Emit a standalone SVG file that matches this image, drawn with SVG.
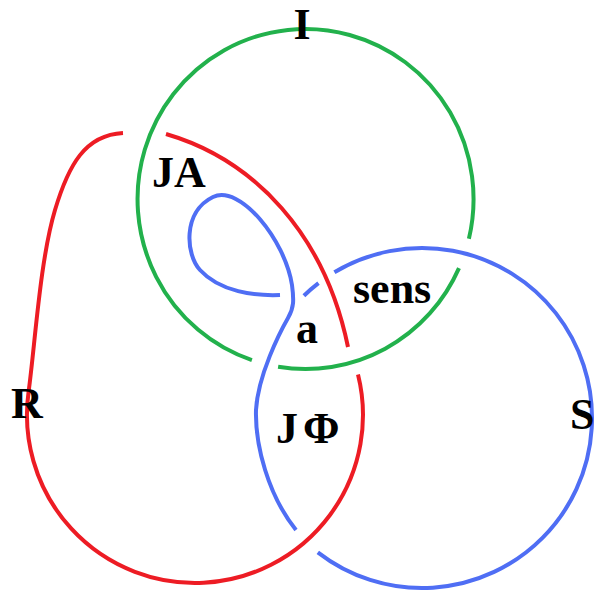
<svg xmlns="http://www.w3.org/2000/svg" width="596" height="592" viewBox="0 0 596 592">
<style>
.c{fill:none;stroke-width:4;stroke-linecap:butt}
.g{stroke:#22b14c}
.r{stroke:#ed1c24}
.b{stroke:#4f6ef4}
.t{font-family:"Liberation Serif","Times New Roman",serif;font-weight:bold;font-size:44px;fill:#000}
</style>
<rect width="596" height="592" fill="#fff"/>
<g id="curve-I">
<path class="c g" d="M459,268.1 A168 170 0 0 1 278.1,366.7"/>
<path class="c g" d="M251.9,360.1 A168 170 0 1 1 468.9,238.7"/>
</g>
<g id="curve-R">
<path class="c r" d="M166,134 C255,160 325,235 348,347"/>
<path class="c r" d="M358,374.4 A168 168 0 1 1 28.6,391.6 C35,345 40,260 55,210 C68.5,165 85,135 123,133"/>
</g>
<g id="curve-S">
<path class="c b" d="M317.8,552.3 A170 170 0 1 0 334.4,272.3"/>
<path class="c b" d="M318.5,283.1 A170 170 0 0 0 303.9,295.7"/>
<path class="c b" d="M280,295 C255,296 220,292 200,270 C186,255 182,212 213,197 C240,184 285,240 292,285 C294,300 294,308 288,318 C280,332 258,375 256,410 C255,445 268,495 296,530"/>
</g>
<g id="labels">
<text class="t" x="302" y="39" text-anchor="middle">I</text>
<text class="t" x="152" y="187">JA</text>
<text class="t" x="353" y="303">sens</text>
<text class="t" x="296" y="343">a</text>
<text class="t" x="276" y="443">J<tspan dx="5">Φ</tspan></text>
<text class="t" x="11" y="418">R</text>
<text class="t" x="570" y="429">S</text>
</g>
</svg>
